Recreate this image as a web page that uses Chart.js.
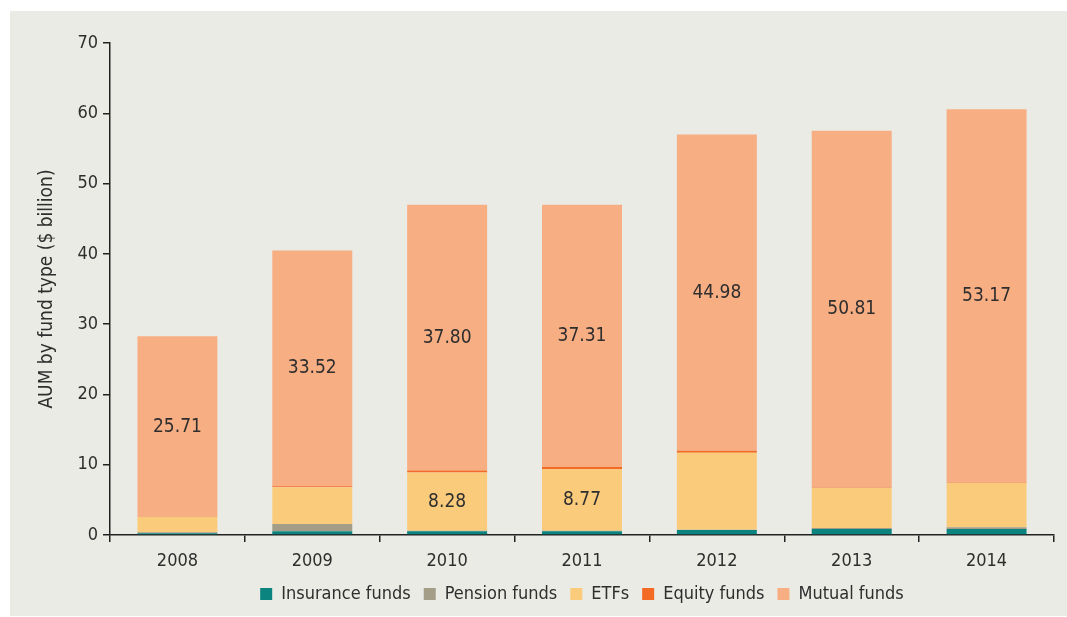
<!DOCTYPE html>
<html>
<head>
<meta charset="utf-8">
<title>AUM by fund type</title>
<script src="https://cdn.jsdelivr.net/npm/chart.js@4/dist/chart.umd.min.js"></script>
<style>
  html, body { margin: 0; padding: 0; background: #ffffff; }
  #wrap { position: relative; width: 1067px; height: 617px; }
</style>
</head>
<body>
<div id="wrap"><canvas id="aum-chart"></canvas></div>
<script>
// AUM by fund type, $ billion
const years = ['2008', '2009', '2010', '2011', '2012', '2013', '2014'];
const insuranceFunds = [0.25, 0.55, 0.55, 0.55, 0.70, 0.85, 0.85];
const pensionFunds = [0.15, 1.00, 0.05, 0.05, 0.05, 0.15, 0.25];
const etfs = [2.15, 5.25, 8.28, 8.77, 10.95, 5.70, 6.30];
const equityFunds = [0.02, 0.15, 0.30, 0.30, 0.30, 0.02, 0.02];
const mutualFunds = [25.71, 33.52, 37.80, 37.31, 44.98, 50.81, 53.17];
const yTicks = [0, 10, 20, 30, 40, 50, 60, 70];

// which bars carry a value label
const etfLabelled = [false, false, true, true, false, false, false];
const mutualLabelled = [true, true, true, true, true, true, true];

const FONT = "'Liberation Sans Narrow', 'DejaVu Sans Condensed', 'Arial Narrow', sans-serif";
const INK = '#2e2e2e';

// gray panel behind the chart
const panelBg = {
    id: 'panelBg',
    beforeDraw(chart) {
        const ctx = chart.ctx;
        ctx.save();
        ctx.fillStyle = '#ebebe5';
        ctx.fillRect(10, 11, chart.width - 10, chart.height - 12);
        ctx.restore();
    }
};

// value labels in the middle of the segments
const segmentLabels = {
    id: 'segmentLabels',
    afterDatasetsDraw(chart) {
        const ctx = chart.ctx;
        ctx.save();
        ctx.font = '19px ' + FONT;
        ctx.fillStyle = INK;
        ctx.textAlign = 'center';
        ctx.textBaseline = 'middle';
        chart.data.datasets.forEach((ds, i) => {
            if (!ds.showValue) return;
            const meta = chart.getDatasetMeta(i);
            meta.data.forEach((bar, j) => {
                if (!ds.showValue[j]) return;
                const y = (bar.y + bar.base) / 2;
                ctx.fillText(ds.data[j].toFixed(2), bar.x, y);
            });
        });
        ctx.restore();
    }
};

const ctx = document.getElementById('aum-chart').getContext('2d');
new Chart(ctx, {
    type: 'bar',
    data: {
        labels: years,
        datasets: [
            { label: 'Insurance funds', data: insuranceFunds, backgroundColor: '#0b837f' },
            { label: 'Pension funds', data: pensionFunds, backgroundColor: '#a49e89' },
            { label: 'ETFs', data: etfs, backgroundColor: '#fbcb7c', showValue: etfLabelled },
            { label: 'Equity funds', data: equityFunds, backgroundColor: '#f26a24' },
            { label: 'Mutual funds', data: mutualFunds, backgroundColor: '#f8ae83', showValue: mutualLabelled }
        ]
    },
    options: {
        responsive: true,
        maintainAspectRatio: false,
        animation: false,
        layout: { padding: { top: 43, right: 13, left: 0, bottom: 4 } },
        datasets: {
            bar: { categoryPercentage: 1, barPercentage: 0.593, borderWidth: 0 }
        },
        scales: {
            x: {
                stacked: true,
                afterFit(scale) { scale.height = 37; },
                border: { color: '#222', width: 1.5 },
                grid: {
                    drawOnChartArea: false,
                    drawTicks: true,
                    tickLength: 7,
                    color: '#222',
                    lineWidth: 1.5
                },
                ticks: { color: INK, padding: 9, font: { family: FONT, size: 18 } }
            },
            y: {
                stacked: true,
                min: 0,
                max: 70,
                afterFit(scale) { scale.width = 110; },
                afterBuildTicks(scale) { scale.ticks = yTicks.map(v => ({ value: v })); },
                border: { color: '#222', width: 1.5 },
                grid: {
                    drawOnChartArea: false,
                    drawTicks: true,
                    tickLength: 7,
                    color: '#222',
                    lineWidth: 1.5
                },
                ticks: { color: INK, padding: 5, font: { family: FONT, size: 18 } },
                title: {
                    display: true,
                    text: 'AUM by fund type ($ billion)',
                    color: INK,
                    padding: { top: 36, bottom: 0 },
                    font: { family: FONT, size: 19 }
                }
            }
        },
        plugins: {
            legend: {
                position: 'bottom',
                fullSize: false,
                labels: {
                    boxWidth: 12,
                    boxHeight: 12,
                    padding: 13,
                    color: INK,
                    font: { family: FONT, size: 18 }
                }
            },
            tooltip: { enabled: false }
        }
    },
    plugins: [panelBg, segmentLabels]
});
</script>
</body>
</html>
